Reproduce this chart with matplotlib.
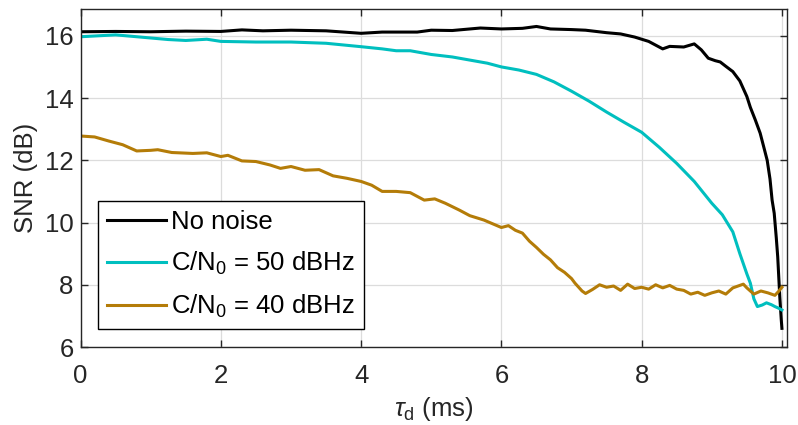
import numpy as np
import matplotlib.pyplot as plt

# delay (ms) and SNR (dB)
t_clean = [0.0, 0.5, 1.0, 1.5, 2.0, 2.3, 2.6, 3.0, 3.5, 4.0, 4.3, 4.8, 5.0, 5.3,
           5.7, 6.0, 6.3, 6.5, 6.7, 7.0, 7.2, 7.5, 7.7, 7.9, 8.1, 8.3, 8.4, 8.6,
           8.75, 8.85, 8.95, 9.05, 9.12, 9.2, 9.3, 9.4, 9.5, 9.55, 9.62, 9.69,
           9.75, 9.79, 9.83, 9.86, 9.89, 9.92, 9.94, 9.97, 9.99, 10.0]
snr_clean = [16.13, 16.14, 16.13, 16.15, 16.14, 16.19, 16.16, 16.18, 16.16, 16.08,
             16.12, 16.12, 16.18, 16.17, 16.25, 16.22, 16.24, 16.30, 16.22, 16.20,
             16.18, 16.10, 16.06, 15.96, 15.82, 15.58, 15.66, 15.64, 15.74, 15.55,
             15.28, 15.20, 15.16, 15.02, 14.85, 14.55, 14.05, 13.70, 13.30, 12.87,
             12.35, 12.0, 11.4, 10.72, 10.3, 9.5, 8.9, 7.6, 6.9, 6.6]

t_50 = [0.0, 0.25, 0.5, 0.75, 1.0, 1.25, 1.5, 1.8, 2.0, 2.5, 3.0, 3.5, 4.0, 4.3,
        4.5, 4.7, 5.0, 5.3, 5.55, 5.8, 6.0, 6.25, 6.5, 6.75, 7.0, 7.25, 7.5,
        7.75, 8.0, 8.25, 8.5, 8.75, 9.0, 9.15, 9.3, 9.4, 9.5, 9.55, 9.6, 9.65,
        9.72, 9.78, 9.85, 9.9, 9.95, 10.0]
snr_50 = [15.97, 16.0, 16.03, 15.98, 15.93, 15.88, 15.85, 15.89, 15.82, 15.80,
          15.80, 15.76, 15.65, 15.58, 15.52, 15.52, 15.40, 15.32, 15.22, 15.12,
          15.00, 14.90, 14.76, 14.52, 14.22, 13.90, 13.55, 13.22, 12.90, 12.42,
          11.90, 11.32, 10.62, 10.25, 9.70, 9.0, 8.35, 8.05, 7.55, 7.3, 7.35,
          7.42, 7.36, 7.30, 7.25, 7.19]

t_40 = [0.0, 0.2, 0.4, 0.6, 0.8, 1.0, 1.1, 1.3, 1.6, 1.8, 2.0, 2.1, 2.3, 2.5,
        2.7, 2.85, 3.0, 3.2, 3.4, 3.6, 3.8, 4.0, 4.15, 4.3, 4.5, 4.7, 4.9, 5.05,
        5.2, 5.4, 5.55, 5.75, 6.0, 6.1, 6.2, 6.3, 6.4, 6.5, 6.6, 6.7, 6.8, 6.9,
        7.0, 7.05, 7.15, 7.2, 7.3, 7.4, 7.5, 7.6, 7.7, 7.8, 7.9, 8.0, 8.1, 8.2,
        8.3, 8.4, 8.5, 8.6, 8.7, 8.8, 8.9, 9.0, 9.1, 9.2, 9.3, 9.4, 9.45, 9.5,
        9.6, 9.7, 9.8, 9.9, 9.95, 10.0]
snr_40 = [12.78, 12.75, 12.62, 12.50, 12.30, 12.32, 12.34, 12.25, 12.22, 12.24,
          12.12, 12.16, 11.98, 11.96, 11.85, 11.74, 11.80, 11.68, 11.70, 11.50,
          11.42, 11.32, 11.20, 11.00, 11.00, 10.96, 10.72, 10.76, 10.62, 10.40,
          10.22, 10.08, 9.84, 9.90, 9.75, 9.66, 9.40, 9.20, 8.98, 8.80, 8.55,
          8.40, 8.20, 8.05, 7.80, 7.72, 7.85, 8.00, 7.92, 7.96, 7.82, 8.02, 7.88,
          7.92, 7.86, 8.00, 7.90, 7.98, 7.86, 7.82, 7.70, 7.76, 7.66, 7.74, 7.80,
          7.70, 7.90, 7.98, 8.02, 7.90, 7.70, 7.80, 7.74, 7.66, 7.78, 7.92]

labels = ['No noise', 'C/N$_0$ = 50 dBHz', 'C/N$_0$ = 40 dBHz']
colors = ['black', '#00bfbf', '#b47c08']

plt.rcParams['font.family'] = ['Liberation Sans', 'DejaVu Sans']
plt.rcParams['mathtext.fontset'] = 'custom'
plt.rcParams['mathtext.rm'] = 'Liberation Sans'
plt.rcParams['mathtext.it'] = 'Liberation Sans:italic'

fs = 18.5
fig = plt.figure(figsize=(7.98, 4.25), dpi=100)
ax = fig.add_axes([0.101, 0.1835, 0.885, 0.7945])

series = [(t_clean, snr_clean), (t_50, snr_50), (t_40, snr_40)]
for (t, s), lab, c in zip(series, labels, colors):
    ax.plot(t, s, color=c, lw=2.2, label=lab)

ax.set_xlim(0, 10.07)
ax.set_ylim(6, 16.85)
ax.set_xticks(np.arange(0, 11, 2))
ax.set_yticks(np.arange(6, 17, 2))
ax.grid(True, color='#dcdcdc', lw=0.9)
ax.set_axisbelow(True)
ax.tick_params(direction='in', length=5, width=1, colors='#262626',
               labelsize=fs, top=True, right=True)
ax.tick_params(axis='x', pad=12)
ax.tick_params(axis='y', pad=5)
for sp in ax.spines.values():
    sp.set_color('#262626')
    sp.set_linewidth(1)

ax.set_xlabel(r'$\tau_{\rm d}$ (ms)', fontsize=fs, color='#262626', labelpad=5)
ax.set_ylabel('SNR (dB)', fontsize=fs, color='#262626', labelpad=5)

leg = ax.legend(loc='upper left', bbox_to_anchor=(0.0245, 0.432), borderaxespad=0,
                fontsize=fs, handlelength=2.3, handletextpad=0.2,
                labelspacing=0.62, borderpad=0.35, fancybox=False, framealpha=1)
leg.get_frame().set_edgecolor('black')
leg.get_frame().set_linewidth(1)

fig.savefig('out.png', dpi=100)
